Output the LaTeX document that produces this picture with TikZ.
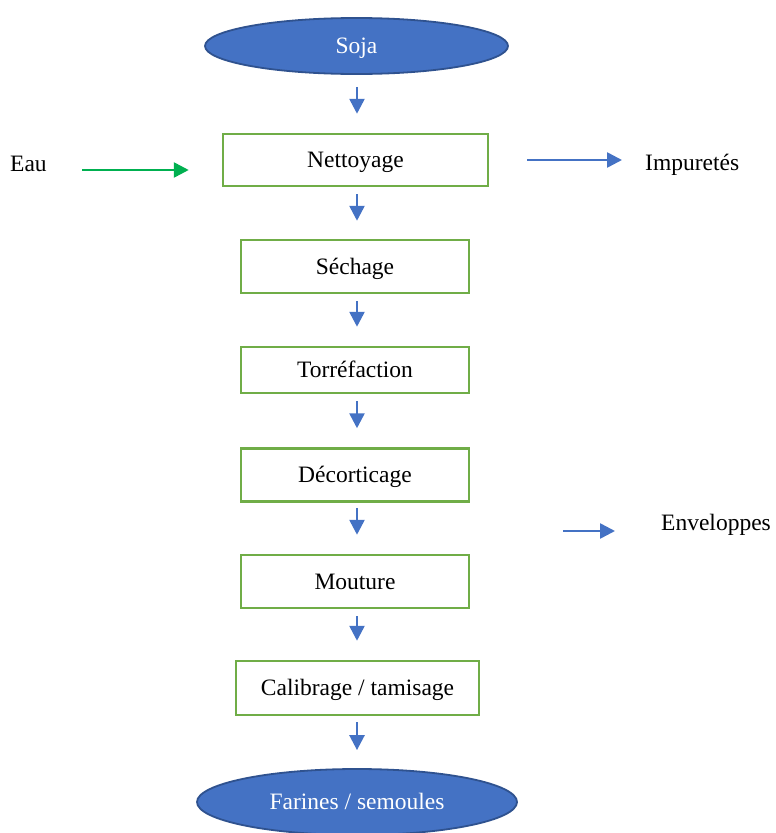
\documentclass[tikz,border=0pt]{standalone}
\usepackage{fontspec}
\setmainfont{Liberation Serif}
\usetikzlibrary{shapes.geometric,arrows.meta,calc}

\definecolor{fillblue}{HTML}{4472C4}
\definecolor{edgeblue}{HTML}{2F528F}
\definecolor{boxgreen}{HTML}{70AD47}
\definecolor{arrowgreen}{HTML}{00B050}

\tikzset{
  base/.style={font=\fontsize{23.5}{27}\selectfont, text height=15.5pt, text depth=0pt},
  terminal/.style={base, ellipse, draw=edgeblue, line width=1.8pt, fill=fillblue,
    text=white, inner sep=0pt},
  stepbox/.style={base, rectangle, draw=boxgreen, line width=2.5pt, fill=white,
    inner sep=0pt, minimum width=228pt},
  sidelabel/.style={base, inner sep=0pt, anchor=west},
  flow/.style={draw=fillblue, line width=2.6pt,
    -{Triangle[length=15pt,width=15pt]}},
  waterflow/.style={flow, draw=arrowgreen},
}

\begin{document}
\begin{tikzpicture}[x=1pt,y=-1pt]
\useasboundingbox (0,0) rectangle (776,833);

% main chain of the process
\node[terminal, minimum width=303pt, minimum height=56pt] (soja) at (356.5,46) {Soja};
\node[stepbox, minimum width=265pt, minimum height=52pt] (net) at (355.5,160) {Nettoyage};
\node[stepbox, minimum height=53pt] (sech) at (355,266.5) {Séchage};
\node[stepbox, minimum height=46pt] (torr) at (355,370) {Torréfaction};
\node[stepbox, minimum height=53pt] (deco) at (355,475) {Décorticage};
\node[stepbox, minimum height=53pt] (mout) at (355,581.5) {Mouture};
\node[stepbox, minimum width=243pt, minimum height=54pt] (calib) at (357.5,688) {Calibrage / tamisage};
\node[terminal, minimum width=320pt, minimum height=66pt] (far) at (357,802) {Farines / semoules};

% side inputs and outputs
\node[sidelabel] (eau) at (10,163.5) {Eau};
\node[sidelabel] (imp) at (645,163) {Impuretés};
\node[sidelabel] (env) at (661,522.5) {Enveloppes};

% short arrows between the steps
\draw[flow, shorten <=12pt, shorten >=19pt] (soja.south -| 357,0) -- (net.north -| 357,0);
\draw[flow, shorten <=7pt, shorten >=18pt] (net.south -| 357,0) -- (sech.north -| 357,0);
\draw[flow, shorten <=7pt, shorten >=19pt] (sech.south -| 357,0) -- (torr.north -| 357,0);
\draw[flow, shorten <=7pt, shorten >=19pt] (torr.south -| 357,0) -- (deco.north -| 357,0);
\draw[flow, shorten <=5pt, shorten >=19pt] (deco.south -| 357,0) -- (mout.north -| 357,0);
\draw[flow, shorten <=7pt, shorten >=19pt] (mout.south -| 357,0) -- (calib.north -| 357,0);
\draw[flow, shorten <=6pt, shorten >=18pt] (calib.south -| 357,0) -- (far.north -| 357,0);

% water in, impurities and hulls out
\coordinate (eauS) at (82,170);
\draw[waterflow, shorten >=33pt] (eauS) -- (eauS -| net.west);
\coordinate (impS) at (527,160);
\draw[flow, shorten >=23pt] (impS) -- (impS -| imp.west);
\coordinate (envS) at (563,531);
\draw[flow, shorten >=46pt] (envS) -- (envS -| env.west);
\end{tikzpicture}
\end{document}
